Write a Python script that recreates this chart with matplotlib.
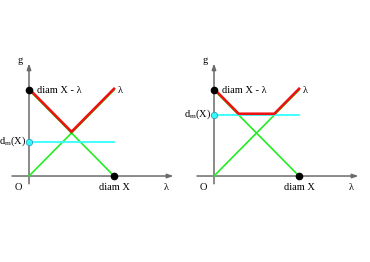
import numpy as np
import matplotlib.pyplot as plt
from matplotlib import transforms

plt.rcParams['font.family'] = ['Liberation Serif', 'DejaVu Serif']

# diam X normalised to 1, d_m(X)
diam = 1.0
dm_values = [0.40, 0.71]
panel_lefts = [0.0, 0.5]

GRAY = '#6a6a6a'
GREEN = '#22ee22'
RED = '#ee1111'
CYAN = '#33ffff'


def upper_envelope(dm):
    # max(lambda, diam - lambda, dm) on [0, diam]
    half = diam / 2
    if dm <= half:
        return [0, half, diam], [diam, half, diam]
    return [0, diam - dm, dm, diam], [diam, dm, dm, diam]


fig = plt.figure(figsize=(3.70, 2.62), dpi=100)

for left, dm in zip(panel_lefts, dm_values):
    ax = fig.add_axes([left, 0, 0.5, 1])
    ax.set_xlim(-0.341, 1.835)
    ax.set_ylim(-1.0, 2.047)
    ax.axis('off')

    # axes with arrowheads
    ax.annotate('', xy=(1.70, 0), xytext=(-0.20, 0),
                arrowprops=dict(arrowstyle='-|>,head_length=0.35,head_width=0.12',
                                color=GRAY, lw=1.1, shrinkA=0, shrinkB=0))
    ax.annotate('', xy=(0, 1.31), xytext=(0, -0.09),
                arrowprops=dict(arrowstyle='-|>,head_length=0.35,head_width=0.12',
                                color=GRAY, lw=1.1, shrinkA=0, shrinkB=0))

    lam = np.array([0, diam])
    ax.plot(lam, lam, color=GREEN, lw=1.2, zorder=3)
    ax.plot(lam, diam - lam, color=GREEN, lw=1.2, zorder=3)
    ax.plot(lam, [dm, dm], color=CYAN, lw=1.3, zorder=3)

    shifted = transforms.offset_copy(ax.transData, fig=fig, x=0, y=1.2, units='dots')
    ex, ey = upper_envelope(dm)
    ax.plot(ex, ey, color=RED, lw=1.9, zorder=4, transform=shifted,
            solid_joinstyle='miter')

    ax.plot([0, diam], [diam, 0], 'o', color='black', ms=4.5, zorder=5)
    ax.plot([0], [dm], 'o', mfc=CYAN, mec='#3399bb', mew=0.6, ms=4.5, zorder=5)

    fs = 7.5
    ax.text(-0.07, 1.34, 'g', fontsize=fs, ha='right', va='center')
    ax.text(1.62, -0.13, 'λ', fontsize=fs, ha='center', va='center')
    ax.text(-0.12, -0.13, 'O', fontsize=fs, ha='center', va='center')
    ax.text(diam + 0.01, -0.13, 'diam X', fontsize=fs, ha='center', va='center')
    ax.text(0.09, diam, 'diam X - λ', fontsize=fs, ha='left', va='center')
    ax.text(diam + 0.04, diam, 'λ', fontsize=fs, ha='left', va='center')
    ax.text(-0.03, dm + 0.01, r'd$_{\mathregular{m}}$(X)', fontsize=fs,
            ha='right', va='center')

fig.savefig('out.png', dpi=100)
